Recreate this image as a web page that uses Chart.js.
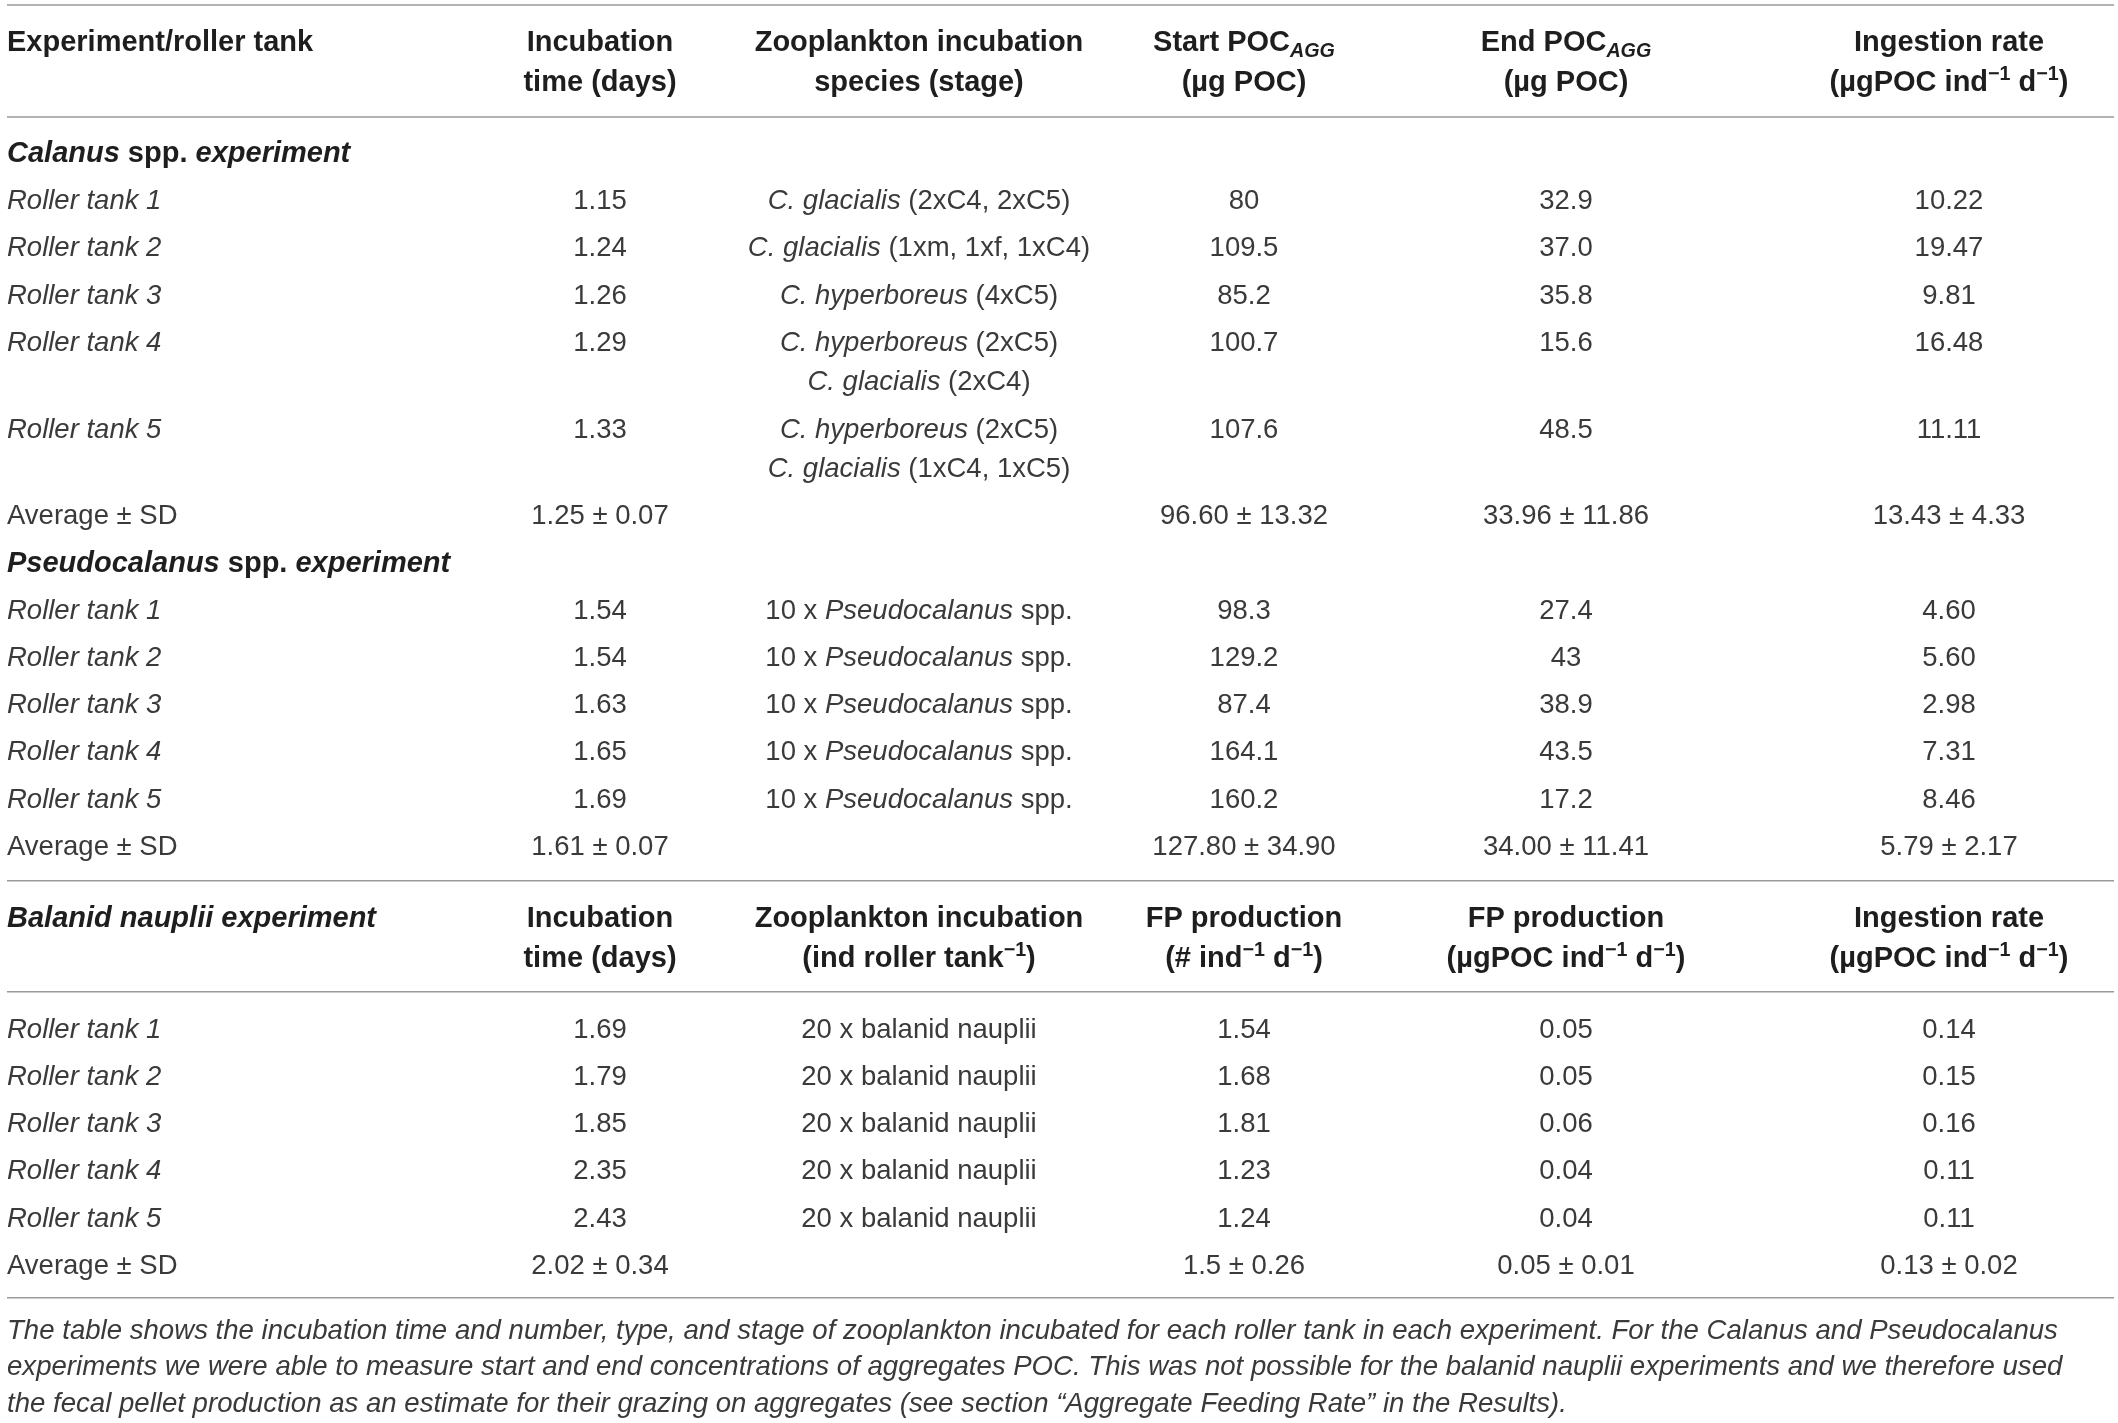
<!DOCTYPE html>
<html>
<head>
<meta charset="utf-8">
<script src="https://cdn.jsdelivr.net/npm/chart.js@4.4.1/dist/chart.umd.min.js"></script>
<style>
  html, body { margin: 0; padding: 0; background: #ffffff; }
  #wrap { position: relative; width: 2118px; height: 1423px; }
</style>
</head>
<body>
<div id="wrap"><canvas id="c"></canvas></div>
<script>
// ---------------- DATA ----------------
// markup: *italic*  _{subscript}  ^{superscript}
const topHeaders = [
  ['Experiment/roller tank'],
  ['Incubation', 'time (days)'],
  ['Zooplankton incubation', 'species (stage)'],
  ['Start POC_{AGG}', '(µg POC)'],
  ['End POC_{AGG}', '(µg POC)'],
  ['Ingestion rate', '(µgPOC ind^{−1} d^{−1})']
];
const balanidHeaders = [
  ['*Balanid nauplii experiment*'],
  ['Incubation', 'time (days)'],
  ['Zooplankton incubation', '(ind roller tank^{−1})'],
  ['FP production', '(# ind^{−1} d^{−1})'],
  ['FP production', '(µgPOC ind^{−1} d^{−1})'],
  ['Ingestion rate', '(µgPOC ind^{−1} d^{−1})']
];

const tankLabels = ['Roller tank 1', 'Roller tank 2', 'Roller tank 3', 'Roller tank 4', 'Roller tank 5'];
const averageLabel = 'Average ± SD';

const calanusTitle = '*Calanus* spp. *experiment*';
const calanusTime = ['1.15', '1.24', '1.26', '1.29', '1.33'];
const calanusSpecies = [
  ['*C. glacialis* (2xC4, 2xC5)'],
  ['*C. glacialis* (1xm, 1xf, 1xC4)'],
  ['*C. hyperboreus* (4xC5)'],
  ['*C. hyperboreus* (2xC5)', '*C. glacialis* (2xC4)'],
  ['*C. hyperboreus* (2xC5)', '*C. glacialis* (1xC4, 1xC5)']
];
const calanusStart = ['80', '109.5', '85.2', '100.7', '107.6'];
const calanusEnd = ['32.9', '37.0', '35.8', '15.6', '48.5'];
const calanusIngestion = ['10.22', '19.47', '9.81', '16.48', '11.11'];
const calanusAverage = ['1.25 ± 0.07', '', '96.60 ± 13.32', '33.96 ± 11.86', '13.43 ± 4.33'];

const pseudoTitle = '*Pseudocalanus* spp. *experiment*';
const pseudoTime = ['1.54', '1.54', '1.63', '1.65', '1.69'];
const pseudoSpecies = [
  ['10 x *Pseudocalanus* spp.'], ['10 x *Pseudocalanus* spp.'], ['10 x *Pseudocalanus* spp.'],
  ['10 x *Pseudocalanus* spp.'], ['10 x *Pseudocalanus* spp.']
];
const pseudoStart = ['98.3', '129.2', '87.4', '164.1', '160.2'];
const pseudoEnd = ['27.4', '43', '38.9', '43.5', '17.2'];
const pseudoIngestion = ['4.60', '5.60', '2.98', '7.31', '8.46'];
const pseudoAverage = ['1.61 ± 0.07', '', '127.80 ± 34.90', '34.00 ± 11.41', '5.79 ± 2.17'];

const balanidTime = ['1.69', '1.79', '1.85', '2.35', '2.43'];
const balanidZoo = [['20 x balanid nauplii'], ['20 x balanid nauplii'], ['20 x balanid nauplii'], ['20 x balanid nauplii'], ['20 x balanid nauplii']];
const balanidFpNumber = ['1.54', '1.68', '1.81', '1.23', '1.24'];
const balanidFpPoc = ['0.05', '0.05', '0.06', '0.04', '0.04'];
const balanidIngestion = ['0.14', '0.15', '0.16', '0.11', '0.11'];
const balanidAverage = ['2.02 ± 0.34', '', '1.5 ± 0.26', '0.05 ± 0.01', '0.13 ± 0.02'];

const captionLines = [
  'The table shows the incubation time and number, type, and stage of zooplankton incubated for each roller tank in each experiment. For the Calanus and Pseudocalanus',
  'experiments we were able to measure start and end concentrations of aggregates POC. This was not possible for the balanid nauplii experiments and we therefore used',
  'the fecal pellet production as an estimate for their grazing on aggregates (see section \u201cAggregate Feeding Rate\u201d in the Results).'
];

// ---------------- LAYOUT / STYLE ----------------
const W = 2118, H = 1423;
const colX = [7, 600, 919, 1244, 1566, 1949];
const colAlign = ['left', 'center', 'center', 'center', 'center', 'center'];
const FONT = '"Liberation Sans", Arial, Helvetica, sans-serif';
const bodySize = 27.5, headSize = 29, capSize = 27.6;
const bodyColor = '#3a3a3a', headColor = '#1e1e1e', ruleColor = '#9a9a9a', capColor = '#3a3a3a';
const rowStep = 47.2, lineStep = 39.6, headLineStep = 40;

function parseMarkup(str) {
  const segs = [];
  let italic = false, i = 0, buf = '';
  const flush = (mode) => { if (buf) segs.push({ t: buf, it: italic, mode: mode || 'n' }); buf = ''; };
  while (i < str.length) {
    const ch = str[i];
    if (ch === '*') { flush(); italic = !italic; i++; continue; }
    if ((ch === '_' || ch === '^') && str[i + 1] === '{') {
      flush();
      const end = str.indexOf('}', i);
      segs.push({ t: str.slice(i + 2, end), it: ch === '_' ? true : italic, mode: ch === '_' ? 'sub' : 'sup' });
      i = end + 1; continue;
    }
    buf += ch; i++;
  }
  flush();
  return segs;
}

function segFont(seg, size, bold) {
  const s = seg.mode === 'n' ? size : size * 0.68;
  return (seg.it ? 'italic ' : '') + (bold ? 'bold ' : '') + s.toFixed(2) + 'px ' + FONT;
}

function drawRich(ctx, str, x, y, align, size, bold, color) {
  const segs = parseMarkup(str);
  let total = 0;
  segs.forEach(s => { ctx.font = segFont(s, size, bold); s.w = ctx.measureText(s.t).width; total += s.w; });
  let cx = align === 'center' ? x - total / 2 : x;
  ctx.fillStyle = color;
  ctx.textBaseline = 'alphabetic';
  ctx.textAlign = 'left';
  const base = y + size * 0.36;
  segs.forEach(s => {
    ctx.font = segFont(s, size, bold);
    let by = base;
    if (s.mode === 'sup') by = base - size * 0.38;
    if (s.mode === 'sub') by = base + size * 0.2;
    ctx.fillText(s.t, cx, by);
    cx += s.w;
  });
}

const tablePlugin = {
  id: 'tablePlugin',
  afterDraw(chart) {
    const ctx = chart.ctx;
    const sx = chart.scales.x, sy = chart.scales.y;
    const X = v => sx.getPixelForValue(v);
    const Y = v => sy.getPixelForValue(v);
    ctx.save();

    const rule = (y) => {
      ctx.strokeStyle = ruleColor; ctx.lineWidth = 1.6;
      ctx.beginPath(); ctx.moveTo(X(7), Y(y)); ctx.lineTo(X(2114), Y(y)); ctx.stroke();
    };
    const header = (hdrs, yTop) => {
      hdrs.forEach((lines, c) => {
        lines.forEach((ln, k) => drawRich(ctx, ln, X(colX[c]), Y(yTop + k * headLineStep), colAlign[c], headSize, true, headColor));
      });
    };
    const row = (cells, y, bold) => {
      let maxLines = 1;
      cells.forEach((cell, c) => {
        const lines = Array.isArray(cell) ? cell : [cell];
        maxLines = Math.max(maxLines, lines.length);
        lines.forEach((ln, k) => { if (ln) drawRich(ctx, ln, X(colX[c]), Y(y + k * lineStep), colAlign[c], bodySize, bold, bold ? headColor : bodyColor); });
      });
      return y + (maxLines - 1) * lineStep;
    };
    const section = (title, labels, cols, avg, yStart) => {
      let y = yStart;
      if (title) { drawRich(ctx, title, X(colX[0]), Y(y), 'left', headSize, true, headColor); y += rowStep; }
      labels.forEach((lab, r) => {
        const cells = ['*' + lab + '*'].concat(cols.map(col => col[r]));
        y = row(cells, y, false) + rowStep;
      });
      row([averageLabel].concat(avg), y, false);
      return y;
    };

    // top block
    rule(5);
    header(topHeaders, 41);
    rule(117);
    let y = section(calanusTitle, tankLabels,
      [calanusTime, calanusSpecies, calanusStart, calanusEnd, calanusIngestion], calanusAverage, 152);
    y = section(pseudoTitle, tankLabels,
      [pseudoTime, pseudoSpecies, pseudoStart, pseudoEnd, pseudoIngestion], pseudoAverage, y + rowStep);
    rule(y + 36);
    header(balanidHeaders, y + 72);
    const r2 = y + 72 + headLineStep + 35;
    rule(r2);
    y = section(null, tankLabels,
      [balanidTime, balanidZoo, balanidFpNumber, balanidFpPoc, balanidIngestion], balanidAverage, r2 + 36);
    rule(y + 34);
    captionLines.forEach((ln, k) => drawRich(ctx, '*' + ln + '*', X(7), Y(y + 65 + k * 36.5), 'left', capSize, false, capColor));
    ctx.restore();
  }
};

new Chart(document.getElementById('c'), {
  type: 'scatter',
  data: { datasets: [{ data: [] }] },
  options: {
    responsive: true,
    maintainAspectRatio: false,
    animation: false,
    layout: { padding: 0 },
    plugins: { legend: { display: false }, tooltip: { enabled: false } },
    scales: {
      x: { type: 'linear', min: 0, max: W, display: false },
      y: { type: 'linear', min: 0, max: H, reverse: true, display: false }
    }
  },
  plugins: [tablePlugin]
});
</script>
</body>
</html>
